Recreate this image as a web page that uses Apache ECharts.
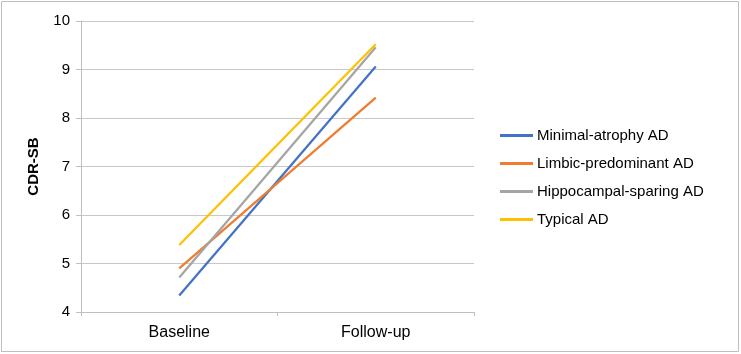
<!DOCTYPE html>
<html><head><meta charset="utf-8">
<script src="https://cdn.jsdelivr.net/npm/echarts@6/dist/echarts.min.js"></script>
<style>html,body{margin:0;padding:0;background:#fff;}#c{width:741px;height:354px;}</style>
</head><body><div id="c"></div>
<script>
const categories = ["Baseline", "Follow-up"];
const seriesNames = ["Minimal-atrophy AD", "Limbic-predominant AD", "Hippocampal-sparing AD", "Typical AD"];
const minimalAtrophy = [4.34, 9.06];
const limbicPredominant = [4.90, 8.42];
const hippocampalSparing = [4.71, 9.46];
const typicalAD = [5.38, 9.52];
const yTicks = [4, 5, 6, 7, 8, 9, 10];
const colors = ["#4472C4", "#ED7D31", "#A5A5A5", "#FFC000"];
const values = [minimalAtrophy, limbicPredominant, hippocampalSparing, typicalAD];

const chart = echarts.init(document.getElementById('c'), null, {renderer: 'canvas'});
chart.setOption({
  animation: false,
  textStyle: {fontFamily: 'Liberation Sans, Arial, sans-serif'},
  graphic: [{type: 'rect', shape: {x: 1.5, y: 1.5, width: 737, height: 350}, style: {fill: 'none', stroke: '#bfbfbf', lineWidth: 1}, silent: true}],
  grid: {left: 81, right: 267, top: 21, bottom: 42},
  legend: {
    orient: 'vertical', left: 495, top: 123,
    itemWidth: 33, itemHeight: 3, itemGap: 13,
    icon: 'rect',
    textStyle: {fontSize: 15, color: '#000', padding: [0, 0, 0, -1]},
    data: seriesNames
  },
  xAxis: {
    type: 'category', data: categories, boundaryGap: true,
    axisLine: {lineStyle: {color: '#bfbfbf'}},
    axisTick: {show: true, length: 4, lineStyle: {color: '#bfbfbf'}},
    axisLabel: {fontSize: 16, color: '#000', margin: 13}
  },
  yAxis: {
    type: 'value', min: 4, max: 10, interval: 1,
    name: 'CDR-SB', nameLocation: 'middle', nameGap: 40, nameRotate: 90,
    nameTextStyle: {fontSize: 15, fontWeight: 'bold', color: '#000'},
    axisLine: {show: true, lineStyle: {color: '#bfbfbf'}},
    axisTick: {show: true, length: 5, lineStyle: {color: '#bfbfbf'}},
    axisLabel: {fontSize: 15, color: '#000', margin: 11, formatter: v => yTicks.includes(v) ? String(v) : ''},
    splitLine: {lineStyle: {color: '#c8c8c8'}}
  },
  series: seriesNames.map((n, i) => ({
    name: n, type: 'line', data: values[i], symbol: 'none',
    lineStyle: {color: colors[i], width: 2.25}, itemStyle: {color: colors[i]}
  }))
});
</script></body></html>
